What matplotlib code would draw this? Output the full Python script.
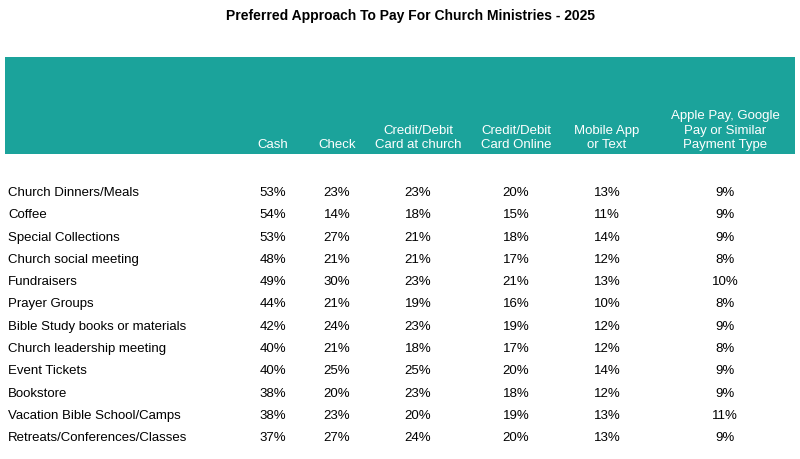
import matplotlib.pyplot as plt
from matplotlib.patches import Rectangle

title = "Preferred Approach To Pay For Church Ministries - 2025"
columns = ["Cash", "Check", "Credit/Debit\nCard at church", "Credit/Debit\nCard Online",
           "Mobile App\nor Text", "Apple Pay, Google\nPay or Similar\nPayment Type"]
rows = ["Church Dinners/Meals", "Coffee", "Special Collections", "Church social meeting",
        "Fundraisers", "Prayer Groups", "Bible Study books or materials",
        "Church leadership meeting", "Event Tickets", "Bookstore",
        "Vacation Bible School/Camps", "Retreats/Conferences/Classes"]
cash = [53, 54, 53, 48, 49, 44, 42, 40, 40, 38, 38, 37]
check = [23, 14, 27, 21, 30, 21, 24, 21, 25, 20, 23, 27]
card_church = [23, 18, 21, 21, 23, 19, 23, 18, 25, 23, 20, 24]
card_online = [20, 15, 18, 17, 21, 16, 19, 17, 20, 18, 19, 20]
mobile = [13, 11, 14, 12, 13, 10, 12, 12, 14, 12, 13, 13]
apple = [9, 9, 9, 8, 10, 8, 9, 8, 9, 9, 11, 9]
series = [cash, check, card_church, card_online, mobile, apple]

col_x = [273, 337, 418, 516, 607, 725]
teal = "#1BA39B"
plt.rcParams["font.family"] = "Liberation Sans"

fig = plt.figure(figsize=(8, 4.6), dpi=100)
ax = fig.add_axes([0, 0, 1, 1])
ax.set_xlim(0, 800)
ax.set_ylim(460, 0)
ax.axis("off")

ax.text(410, 16, title, ha="center", va="center", fontsize=10, fontweight="bold")
ax.add_patch(Rectangle((5, 58), 790, 97, color=teal, lw=0))
for x, c in zip(col_x, columns):
    ax.text(x, 151, c, ha="center", va="bottom", color="white", fontsize=9.5, linespacing=1.25)

for i, r in enumerate(rows):
    y = 193 + i * 22.3
    ax.text(8, y, r, ha="left", va="center", fontsize=9.5)
    for x, s in zip(col_x, series):
        ax.text(x, y, f"{s[i]}%", ha="center", va="center", fontsize=9.5)

fig.savefig("out.png")
